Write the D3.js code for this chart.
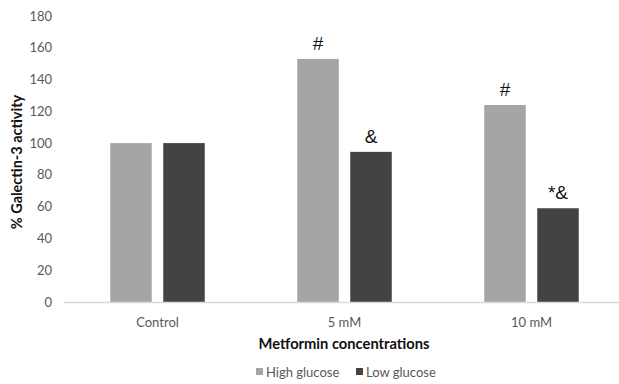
<!DOCTYPE html>
<html><head><meta charset="utf-8">
<script src="https://cdn.jsdelivr.net/npm/d3@7"></script>
<style>body{margin:0;background:#fff}</style>
</head><body>
<svg id="chart" width="619" height="384"></svg>
<script>
const categories = ["Control", "5 mM", "10 mM"];
const seriesNames = ["High glucose", "Low glucose"];
const highGlucose = [100, 153, 124];
const lowGlucose = [100, 94.5, 59];
const highMarks = ["", "#", "#"];
const lowMarks = ["", "&", "*&"];
const yTicks = [0, 20, 40, 60, 80, 100, 120, 140, 160, 180];
const colors = ["#a5a5a5", "#434343"];

const svg = d3.select("#chart");
const font = "Lato, 'Open Sans', sans-serif";
const x = d3.scaleBand().domain(categories).range([64, 625]).paddingInner(0).paddingOuter(0);
const y = d3.scaleLinear().domain([0, 180]).range([302, 16]);
const barW = 41.5, gap = 11.5;

// y tick labels
svg.append("g").selectAll("text").data(yTicks).join("text")
  .attr("x", 52).attr("y", d => y(d)).attr("dy", "0.35em")
  .attr("text-anchor", "end").attr("font-family", font).attr("font-size", 13)
  .attr("fill", "#595959").text(d => d);

const data = categories.map((c, i) => ({c, vals: [highGlucose[i], lowGlucose[i]], marks: [highMarks[i], lowMarks[i]]}));
const g = svg.append("g");
data.forEach(d => {
  const cx = x(d.c) + x.bandwidth() / 2;
  d.vals.forEach((v, j) => {
    const bx = j === 0 ? cx - gap / 2 - barW : cx + gap / 2;
    g.append("rect").attr("x", bx).attr("y", y(v)).attr("width", barW)
      .attr("height", y(0) - y(v)).attr("fill", colors[j]);
    if (d.marks[j]) {
      g.append("text").attr("x", bx + barW / 2).attr("y", y(v) - 9)
        .attr("text-anchor", "middle").attr("font-family", "'Liberation Sans', Arial, sans-serif")
        .attr("font-size", 19).attr("fill", "#111").text(d.marks[j]);
    }
  });
});

// baseline
svg.append("line").attr("x1", 64).attr("x2", 619).attr("y1", y(0) + 0.5).attr("y2", y(0) + 0.5)
  .attr("stroke", "#d9d9d9").attr("stroke-width", 1.5);

// category labels
svg.append("g").selectAll("text").data(categories).join("text")
  .attr("x", d => x(d) + x.bandwidth() / 2).attr("y", 322).attr("dy", "0.35em")
  .attr("text-anchor", "middle").attr("font-family", font).attr("font-size", 13)
  .attr("fill", "#595959").text(d => d);

// axis titles
svg.append("text").attr("x", 344).attr("y", 344).attr("dy", "0.35em")
  .attr("text-anchor", "middle").attr("font-family", font).attr("font-size", 14.7)
  .attr("font-weight", "bold").attr("fill", "#111").text("Metformin concentrations");
svg.append("text").attr("transform", "translate(17,162) rotate(-90)").attr("dy", "0.35em")
  .attr("text-anchor", "middle").attr("font-family", font).attr("font-size", 14.5)
  .attr("font-weight", "bold").attr("fill", "#111").text("% Galectin-3 activity");

// legend
const legX = [256, 356];
seriesNames.forEach((s, i) => {
  svg.append("rect").attr("x", legX[i]).attr("y", 368).attr("width", 7).attr("height", 7).attr("fill", colors[i]);
  svg.append("text").attr("x", legX[i] + 10).attr("y", 372).attr("dy", "0.35em")
    .attr("font-family", font).attr("font-size", 13).attr("fill", "#595959").text(s);
});
</script>
</body></html>
